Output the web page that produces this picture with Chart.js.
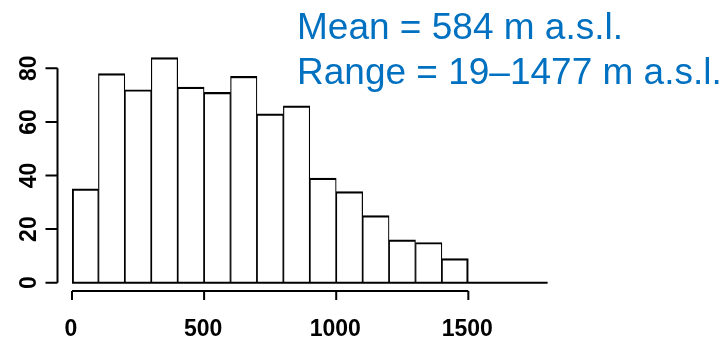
<!DOCTYPE html>
<html>
<head>
<meta charset="utf-8">
<script src="https://cdn.jsdelivr.net/npm/chart.js@4/dist/chart.umd.min.js"></script>
<style>
    html, body { margin: 0; padding: 0; background: #fff; }
</style>
</head>
<body>
<canvas id="myHist" width="727" height="341"></canvas>
<script>
// histogram bins (m a.s.l.), 100 m wide
const binStart = [0, 100, 200, 300, 400, 500, 600, 700, 800, 900, 1000, 1100, 1200, 1300, 1400, 1500, 1600, 1700];
const counts = [35, 78, 72, 84, 73, 71, 77, 63, 66, 39, 34, 25, 16, 15, 9, 0, 0, 0];
const binWidth = 100;

const xTicks = [0, 500, 1000, 1500];
const yTicks = [0, 20, 40, 60, 80];
const notes = ['Mean = 584 m a.s.l.', 'Range = 19\u20131477 m a.s.l.'];

const points = binStart.map((b, i) => ({ x: b + binWidth / 2, y: counts[i] }));
const lastBar = counts.length - 1 - [...counts].reverse().findIndex(c => c > 0);

// R style axes + text, drawn off the chart scales
const rAxes = {
    id: 'rAxes',
    afterDatasetsDraw(chart) {
        const ctx = chart.ctx;
        const xs = chart.scales.x;
        const ys = chart.scales.y;
        const y0 = ys.getPixelForValue(0);
        ctx.save();
        ctx.strokeStyle = '#000';
        ctx.fillStyle = '#000';
        ctx.lineWidth = 2;

        // bar baseline (also covers empty bins)
        ctx.beginPath();
        ctx.moveTo(xs.getPixelForValue(binStart[0]), y0);
        ctx.lineTo(xs.getPixelForValue(binStart[binStart.length - 1] + binWidth), y0);
        ctx.stroke();

        // y axis
        const ax = 57.5;
        ctx.beginPath();
        ctx.moveTo(ax, ys.getPixelForValue(yTicks[0]));
        ctx.lineTo(ax, ys.getPixelForValue(yTicks[yTicks.length - 1]));
        yTicks.forEach(t => {
            const py = ys.getPixelForValue(t);
            ctx.moveTo(ax, py);
            ctx.lineTo(ax - 12, py);
        });
        ctx.stroke();
        ctx.font = 'bold 23px "Liberation Sans", Arial, sans-serif';
        ctx.textAlign = 'center';
        ctx.textBaseline = 'middle';
        yTicks.forEach(t => {
            const py = ys.getPixelForValue(t);
            ctx.save();
            ctx.translate(29, py);
            ctx.rotate(-Math.PI / 2);
            ctx.fillText(String(t), 0, 1);
            ctx.restore();
        });

        // x axis
        const ay = 291;
        ctx.beginPath();
        ctx.moveTo(xs.getPixelForValue(xTicks[0]), ay);
        ctx.lineTo(xs.getPixelForValue(xTicks[xTicks.length - 1]), ay);
        xTicks.forEach(t => {
            const px = xs.getPixelForValue(t);
            ctx.moveTo(px, ay);
            ctx.lineTo(px, ay + 9);
        });
        ctx.stroke();
        ctx.font = 'bold 23px "Liberation Sans", Arial, sans-serif';
        ctx.textBaseline = 'alphabetic';
        xTicks.forEach(t => {
            ctx.fillText(String(t), xs.getPixelForValue(t) - 1, 336);
        });

        // summary text
        ctx.fillStyle = '#0070C0';
        ctx.font = '37px "Liberation Sans", Arial, sans-serif';
        ctx.textAlign = 'left';
        ctx.fillText(notes[0], 297, 39);
        ctx.fillText(notes[1], 297, 84);
        ctx.restore();
    }
};

const config = {
    type: 'bar',
    data: {
        datasets: [{
            data: points,
            backgroundColor: '#fff',
            borderColor: '#000',
            borderSkipped: false,
            borderWidth: (c) => ({
                top: 2.2,
                bottom: 0,
                left: c.dataIndex === 0 ? 2.2 : 1.2,
                right: c.dataIndex === lastBar ? 2.2 : 1.2
            }),
            barPercentage: 1,
            categoryPercentage: 1
        }]
    },
    options: {
        responsive: false,
        animation: false,
        devicePixelRatio: 1,
        layout: {
            padding: { left: 72, right: 179.4, top: 41.5, bottom: 58.3 }
        },
        scales: {
            x: {
                type: 'linear',
                display: false,
                min: 0,
                max: 1800,
                offset: false
            },
            y: {
                display: false,
                min: 0,
                max: 90
            }
        },
        plugins: {
            legend: { display: false },
            tooltip: { enabled: false }
        }
    },
    plugins: [rAxes]
};

const myHist = new Chart(document.getElementById('myHist'), config);
</script>
</body>
</html>
